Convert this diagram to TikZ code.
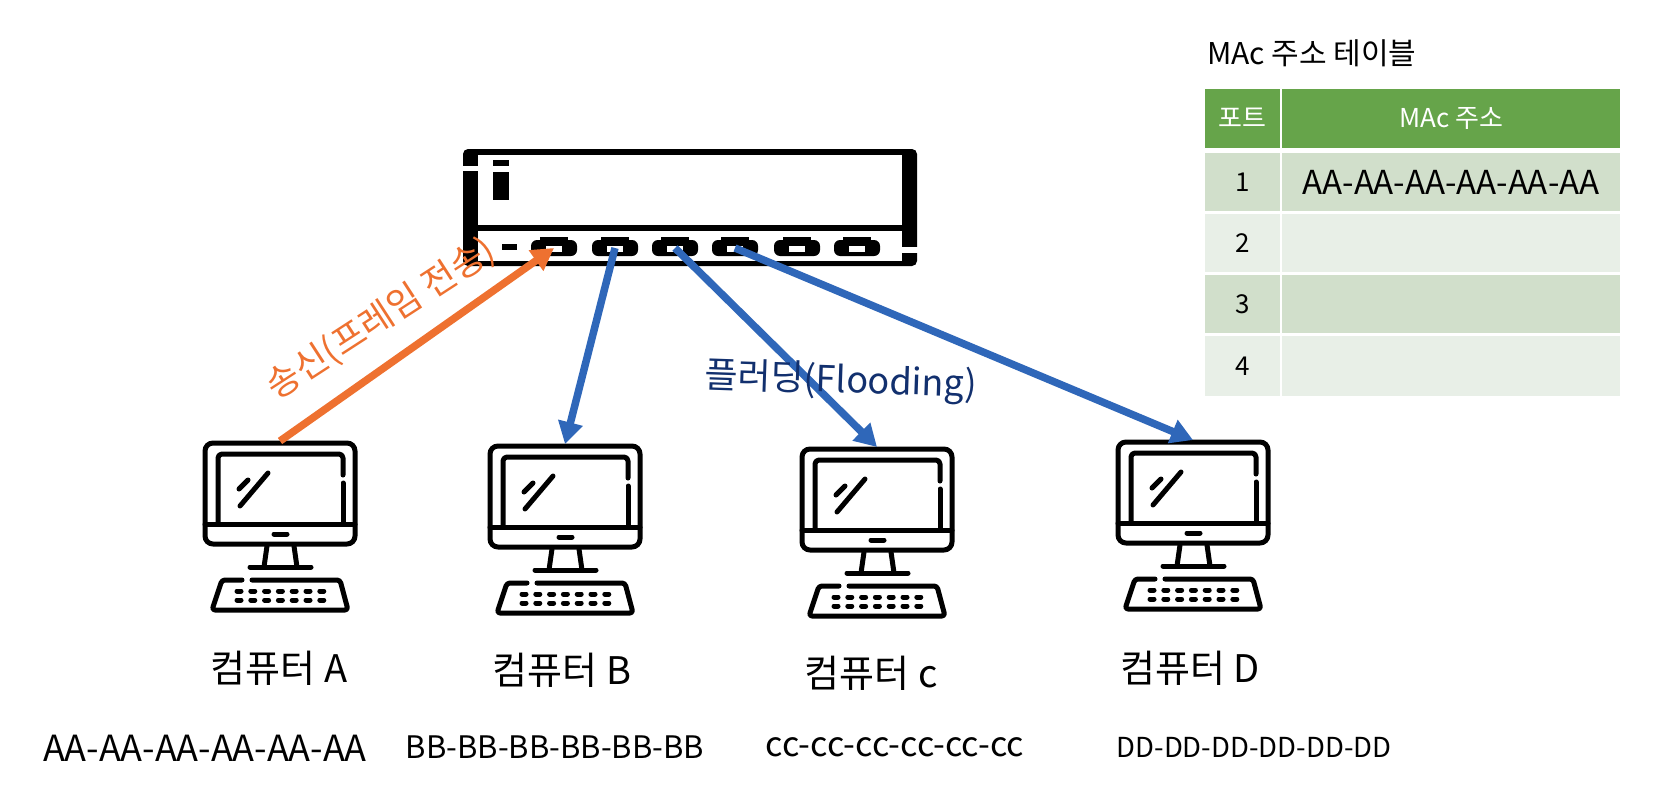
\documentclass[tikz,border=0pt]{standalone}
\usepackage{fontspec}
\setmainfont{Noto Sans CJK KR}
\usetikzlibrary{arrows.meta}
\definecolor{sendorange}{HTML}{EE7130}
\definecolor{floodblue}{HTML}{2F67B9}
\definecolor{floodnavy}{HTML}{12306E}
\definecolor{headgreen}{HTML}{66A44A}
\definecolor{rowdark}{HTML}{D1DFCB}
\definecolor{rowlight}{HTML}{E8EFE7}
\tikzset{
  pcline/.style={line width=5pt,line cap=round,line join=round},
  computer/.pic={
    \draw[pcline,rounded corners=8pt] (2,2) rectangle (152,103);
    \draw[pcline,rounded corners=4pt] (15,83) -- (15,13) -- (140,13) -- (140,34);
    \draw[pcline] (140,42) -- (140,83);
    \draw[pcline] (2,83) -- (152,83);
    \draw[pcline] (36,48) -- (45,39);
    \draw[pcline] (37,65) -- (65,32);
    \draw[pcline] (71,93) -- (84,93);
    \draw[pcline] (64,105) -- (61,126);
    \draw[pcline] (91,105) -- (94,126);
    \draw[pcline] (47,126) -- (108,126);
    \draw[pcline,rounded corners=3pt] (39,139) -- (19,139) -- (9,169) -- (145,169) -- (137,139) -- (49,139);
    \foreach \k in {0,...,6}{
      \draw[pcline] ({34+13.8*\k},150) -- ({38+13.8*\k},150);
      \draw[pcline] ({34+13.8*\k},159) -- ({38+13.8*\k},159);
    }
    \coordinate (-top) at (77,0);
  },
  port/.pic={
    \fill[rounded corners=6pt] (-23,-8) rectangle (23,8);
    \fill (-14,-11) rectangle (14,-7);
    \fill[white] (-8,-2) rectangle (8,4);
    \coordinate (-c) at (0,0);
  },
  tabcell/.style={draw=white,line width=2pt,inner sep=0pt,font=\fontsize{26pt}{30pt}\selectfont},
  narrowcell/.style={tabcell,minimum width=77pt,minimum height=60pt},
  widecell/.style={tabcell,minimum width=340pt,minimum height=60pt},
  pclabel/.style={inner sep=0pt,font=\fontsize{38pt}{42pt}\selectfont},
  maclabel/.style={inner sep=0pt,font=\fontsize{31pt}{36pt}\selectfont},
  sendarrow/.style={draw=sendorange,line width=7.5pt,-{Triangle[length=22pt,width=24pt]}},
  floodarrow/.style={draw=floodblue,line width=7.5pt,-{Triangle[length=22pt,width=24pt]}}
}
\begin{document}
\begin{tikzpicture}[x=1pt,y=-1pt]
  \useasboundingbox (0,0) rectangle (1662,798);
  % switch
  \fill[rounded corners=5pt] (463,149) rectangle (917,266);
  \fill[white] (478,155) rectangle (902,225);
  \fill[white] (478,231) rectangle (902,261);
  \fill[white] (462,166) rectangle (478,171);
  \fill[white] (902,247) rectangle (918,253);
  \fill (493,160) rectangle (509,166);
  \fill (493,172) rectangle (509,200);
  \fill (502,244) rectangle (517,250);
  \pic (p1) at (554,248) {port};
  \pic (p2) at (615,248) {port};
  \pic (p3) at (675,248) {port};
  \pic (p4) at (735,248) {port};
  \pic (p5) at (797,248) {port};
  \pic (p6) at (857,248) {port};
  % computers
  \pic (pcA) at (203,441) {computer};
  \pic (pcB) at (488,444) {computer};
  \pic (pcC) at (800,447) {computer};
  \pic (pcD) at (1116,440) {computer};
  \draw
    (279,668) node[pclabel] (nameA){컴퓨터 A}
    (562,670) node[pclabel] (nameB){컴퓨터 B}
    (871,673) node[pclabel] (nameC){컴퓨터 c}
    (1190,668) node[pclabel] (nameD){컴퓨터 D};
  \draw
    (205,748) node[maclabel,font=\fontsize{36pt}{40pt}\selectfont] (macA){AA-AA-AA-AA-AA-AA}
    (555,747) node[maclabel] (macB){BB-BB-BB-BB-BB-BB}
    (895,747) node[maclabel,font=\fontsize{34pt}{38pt}\selectfont] (macC){cc-cc-cc-cc-cc-cc}
    (1254,747) node[maclabel,font=\fontsize{27.5pt}{32pt}\selectfont] (macD){DD-DD-DD-DD-DD-DD};
  % arrows
  \draw[sendarrow] (pcA-top) to (p1-c);
  \draw[floodarrow] (p2-c) to (pcB-top);
  \draw[floodarrow] (p3-c) to (pcC-top);
  \draw[floodarrow] (p4-c) to (pcD-top);
  \node[rotate=33,text=sendorange,inner sep=0pt,font=\fontsize{36pt}{40pt}\selectfont] (sendtxt) at (381,319) {송신(프레임 전송)};
  \node[rotate=-2,text=floodnavy,inner sep=0pt,font=\fontsize{36pt}{40pt}\selectfont] (floodtxt) at (841,382) {플러딩(Flooding)};
  % table
  \node[anchor=west,inner sep=0pt,font=\fontsize{30pt}{34pt}\selectfont] (tabtitle) at (1207,53) {MAc 주소 테이블};
  \node[narrowcell,fill=headgreen,text=white,minimum height=61pt] (c00) at (1242.5,118) {포트};
  \node[widecell,fill=headgreen,text=white,minimum height=61pt] (c01) at (1451,118) {MAc 주소};
  \node[narrowcell,fill=rowdark] (c10) at (1242.5,182) {1};
  \node[widecell,fill=rowdark,font=\fontsize{33pt}{37pt}\selectfont] (c11) at (1451,182) {AA-AA-AA-AA-AA-AA};
  \node[narrowcell,fill=rowlight] (c20) at (1242.5,243) {2};
  \node[widecell,fill=rowlight] (c21) at (1451,243) {};
  \node[narrowcell,fill=rowdark] (c30) at (1242.5,304) {3};
  \node[widecell,fill=rowdark] (c31) at (1451,304) {};
  \node[narrowcell,fill=rowlight,minimum height=62pt] (c40) at (1242.5,366) {4};
  \node[widecell,fill=rowlight,minimum height=62pt] (c41) at (1451,366) {};
\end{tikzpicture}
\end{document}
